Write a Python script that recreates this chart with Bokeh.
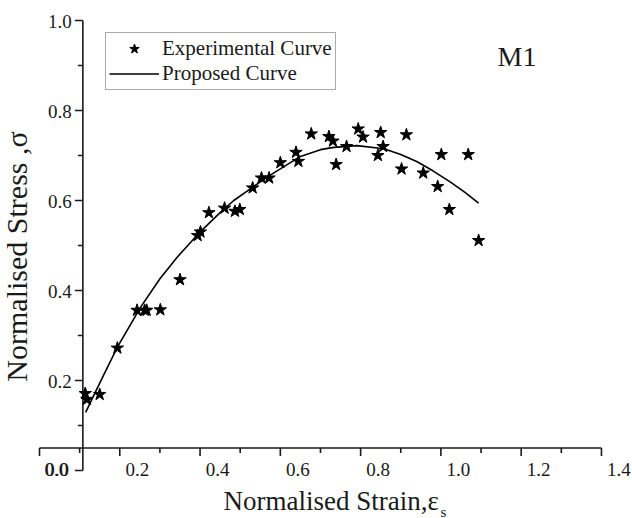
import numpy as np
from bokeh.plotting import figure
from bokeh.models import Range1d, Legend, LegendItem, Label
from bokeh.core.properties import value
from bokeh.embed import file_html
from bokeh.resources import INLINE

# ---------------- data ----------------
exp_strain = [0.114, 0.118, 0.150, 0.194, 0.243, 0.262, 0.267, 0.301, 0.350,
              0.394, 0.401, 0.422, 0.461, 0.487, 0.499, 0.531, 0.553, 0.572,
              0.600, 0.639, 0.645, 0.677, 0.721, 0.731, 0.739, 0.765, 0.794,
              0.806, 0.850, 0.856, 0.843, 0.914, 0.902, 0.956, 1.001, 0.992,
              1.021, 1.068, 1.094]
exp_stress = [0.171, 0.158, 0.169, 0.272, 0.356, 0.356, 0.356, 0.357, 0.424,
              0.522, 0.530, 0.573, 0.583, 0.576, 0.580, 0.628, 0.650, 0.650,
              0.684, 0.707, 0.687, 0.748, 0.742, 0.732, 0.680, 0.720, 0.759,
              0.741, 0.751, 0.720, 0.700, 0.746, 0.670, 0.661, 0.702, 0.631,
              0.580, 0.702, 0.511]

curve_strain = [0.115, 0.150, 0.194, 0.252, 0.300, 0.343, 0.401, 0.450, 0.484,
                0.567, 0.650, 0.700, 0.733, 0.791, 0.858, 0.900, 0.941, 0.980,
                1.024, 1.060, 1.094]
curve_stress = [0.129, 0.194, 0.274, 0.363, 0.426, 0.474, 0.531, 0.573, 0.600,
                0.652, 0.698, 0.713, 0.718, 0.722, 0.715, 0.702, 0.686, 0.666,
                0.641, 0.618, 0.594]

x_major = [0.0, 0.2, 0.4, 0.6, 0.8, 1.0, 1.2, 1.4]
x_minor = [0.1, 0.3, 0.5, 0.7, 0.9, 1.1, 1.3]
x_labels = ["0.0", "0.2", "0.4", "0.6", "0.8", "1.0", "1.2", "1.4"]
y_major = [0.0, 0.2, 0.4, 0.6, 0.8, 1.0]
y_minor = [0.1, 0.3, 0.5, 0.7, 0.9]
y_labels = ["0.0", "0.2", "0.4", "0.6", "0.8", "1.0"]

X_AXIS_AT = 0.05     # stress level at which the strain axis is drawn
Y_AXIS_AT = 0.108    # strain level at which the stress axis is drawn

# ---------------- layout ----------------
W, H = 632, 518
PX0, PXU = 39.0, 401.4   # pixel of strain 0, pixels per unit strain
PY0, PYU = 470.0, 450.0  # pixel of stress 0, pixels per unit stress

FONT = "Liberation Serif"
INK = "#1a1a1a"

p = figure(width=W, height=H,
           x_range=Range1d(-PX0 / PXU, (W - PX0) / PXU),
           y_range=Range1d(-(H - PY0) / PYU, PY0 / PYU),
           x_axis_type=None, y_axis_type=None,
           toolbar_location=None, output_backend="svg",
           min_border=0)
p.outline_line_color = None
p.background_fill_color = "white"
p.border_fill_color = "white"

# axis lines
p.segment(x0=[x_major[0], Y_AXIS_AT], y0=[X_AXIS_AT, y_major[0]],
          x1=[x_major[-1], Y_AXIS_AT], y1=[X_AXIS_AT, y_major[-1]],
          line_color=INK, line_width=1.6)

# ticks
p.ray(x=x_major, y=[X_AXIS_AT] * len(x_major), length=8, length_units="screen",
      angle=-np.pi / 2, line_color=INK, line_width=1.6)
p.ray(x=x_minor, y=[X_AXIS_AT] * len(x_minor), length=5, length_units="screen",
      angle=-np.pi / 2, line_color=INK, line_width=1.6)
p.ray(x=[Y_AXIS_AT] * len(y_major), y=y_major, length=8, length_units="screen",
      angle=np.pi, line_color=INK, line_width=1.6)
p.ray(x=[Y_AXIS_AT] * len(y_minor), y=y_minor, length=5, length_units="screen",
      angle=np.pi, line_color=INK, line_width=1.6)

# tick labels (the two "0.0" labels coincide, as in the reference)
p.text(x=x_major, y=[X_AXIS_AT] * len(x_major), text=x_labels,
       x_offset=17.5, y_offset=21.5, text_align="center",
       text_baseline="alphabetic", text_font=value(FONT),
       text_font_size=value("19px"), text_color=INK)
y_lab_dx = [-14.5] + [-11] * (len(y_major) - 1)
y_lab_dy = [-1.0] + [0.5] * (len(y_major) - 1)
p.text(x=[Y_AXIS_AT] * len(y_major), y=y_major, text=y_labels,
       x_offset=y_lab_dx, y_offset=y_lab_dy, text_align="right",
       text_baseline="alphabetic", text_font=value(FONT),
       text_font_size=value("19px"), text_color=INK)

# data
curve = p.line(curve_strain, curve_stress, line_color="black", line_width=1.6)
stars = p.scatter(exp_strain, exp_stress, marker="star", size=13,
                  fill_color="black", line_color="black")

# legend
legend = Legend(items=[LegendItem(label="Experimental Curve", renderers=[stars]),
                       LegendItem(label="Proposed Curve", renderers=[curve])],
                location=(105, H - 90), margin=0, padding=3, spacing=0,
                glyph_width=50, glyph_height=25, label_height=25,
                label_standoff=3, label_text_font=FONT,
                label_text_font_size="21px", label_text_color=INK,
                border_line_color="#555555", border_line_width=1,
                background_fill_color="white", background_fill_alpha=1.0)
p.add_layout(legend)

# titles / annotations (screen units, origin bottom-left)
p.add_layout(Label(x=223, y=H - 500, x_units="screen", y_units="screen",
                   text="Normalised Strain,\u03b5", text_font=FONT,
                   text_font_size="27px", text_color=INK,
                   text_align="left", text_baseline="alphabetic"))
p.add_layout(Label(x=440, y=H - 511, x_units="screen", y_units="screen",
                   text="s", text_font=FONT, text_font_size="15px",
                   text_color=INK, text_align="left",
                   text_baseline="alphabetic"))
p.add_layout(Label(x=16, y=H - 256, x_units="screen", y_units="screen",
                   text="Normalised Stress ,\u03c3", text_font=FONT,
                   text_font_size="30px", text_color=INK, angle=np.pi / 2,
                   text_align="center", text_baseline="alphabetic"))
p.add_layout(Label(x=497, y=H - 56, x_units="screen", y_units="screen",
                   text="M1", text_font=FONT, text_font_size="28px",
                   text_color=INK, text_align="left",
                   text_baseline="alphabetic"))

open("out.html", "w").write(file_html(p, INLINE))
